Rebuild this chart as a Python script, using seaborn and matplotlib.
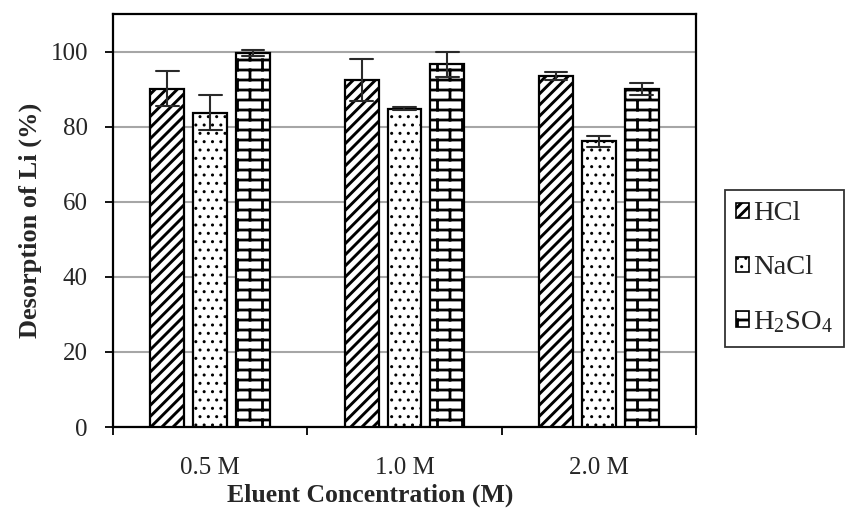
import warnings
warnings.filterwarnings("ignore")
import numpy as np
import pandas as pd
import matplotlib
matplotlib.use("Agg")
import matplotlib.pyplot as plt
import matplotlib.hatch as mhatch
from matplotlib.path import Path
from matplotlib.ticker import FixedLocator
from matplotlib.patches import Patch
import seaborn as sns

# ---------------- data ----------------
concentrations = ["0.5 M", "1.0 M", "2.0 M"]
eluents = ["HCl", "NaCl", "H$_2$SO$_4$"]
hcl_mean = [90.1, 92.3, 93.5]
hcl_err = [4.6, 5.6, 1.0]
nacl_mean = [83.7, 84.8, 76.1]
nacl_err = [4.6, 0.4, 1.4]
h2so4_mean = [99.6, 96.6, 90.0]
h2so4_err = [0.9, 3.3, 1.5]
y_ticks = [0, 20, 40, 60, 80, 100]


# ---------------- custom brick hatch ----------------
class BrickHatch(mhatch.HatchPatternBase):
    def __init__(self, hatch, density):
        self.rows = 10
        self.cols = 4
        if hatch is not None and 'b' in hatch:
            self.num_lines = (self.rows + 1) + self.rows * self.cols
            self.num_vertices = self.num_lines * 2
        else:
            self.num_lines = 0
            self.num_vertices = 0

    def set_vertices_and_codes(self, vertices, codes):
        i = 0
        for r in range(self.rows + 1):
            y = r / self.rows
            vertices[i] = (0.0, y)
            vertices[i + 1] = (1.0, y)
            codes[i] = Path.MOVETO
            codes[i + 1] = Path.LINETO
            i += 2
        for r in range(self.rows):
            off = 0.5 if r % 2 else 0.0
            for c in range(self.cols):
                x = (c + off) / self.cols
                vertices[i] = (x, r / self.rows)
                vertices[i + 1] = (x, (r + 1) / self.rows)
                codes[i] = Path.MOVETO
                codes[i + 1] = Path.LINETO
                i += 2


mhatch._hatch_types.append(BrickHatch)

# ---------------- long-form table ----------------
rows = []
for name, means, errs in [(eluents[0], hcl_mean, hcl_err),
                          (eluents[1], nacl_mean, nacl_err),
                          (eluents[2], h2so4_mean, h2so4_err)]:
    for c, m, e in zip(concentrations, means, errs):
        rows.append({"conc": c, "eluent": name, "value": m - e})
        rows.append({"conc": c, "eluent": name, "value": m + e})
df = pd.DataFrame(rows)

# ---------------- style ----------------
sns.set_style("white")
plt.rcParams['font.family'] = ['Liberation Serif', 'DejaVu Serif']
plt.rcParams['mathtext.fontset'] = 'custom'
plt.rcParams['mathtext.rm'] = 'Liberation Serif'
plt.rcParams['mathtext.it'] = 'Liberation Serif:italic'
plt.rcParams['mathtext.bf'] = 'Liberation Serif:bold'
plt.rcParams['hatch.linewidth'] = 1.4
plt.rcParams['hatch.color'] = 'black'

W, H = 853, 516
fig = plt.figure(figsize=(W / 100, H / 100), dpi=100)
ax = fig.add_axes([113 / W, 1 - 427 / H, (696 - 113) / W, (427 - 14) / H])

sns.barplot(data=df, x="conc", y="value", hue="eluent", order=concentrations,
            hue_order=eluents, ax=ax, width=0.6615, gap=0.21,
            estimator="mean", errorbar=lambda v: (v.min(), v.max()),
            capsize=0.35, err_kws={"color": "#2a2a2a", "linewidth": 1.5},
            palette=["white", "white", "white"], edgecolor="black",
            linewidth=1.6, legend=False, zorder=3)

hatches = ["///", "..", "b"]
hatch_lw = [2.1, 1.0, 2.0]
n = len(concentrations)
bars = [p for p in ax.patches]


def style_hatch(p, k):
    p.set_hatch(hatches[k])
    if hasattr(p, "set_hatch_linewidth"):
        p.set_hatch_linewidth(hatch_lw[k])


for k, p in enumerate(bars[:3 * n]):
    style_hatch(p, k // n)
    p.set_edgecolor("black")
    p.set_zorder(3)
for ln in ax.lines:
    ln.set_zorder(4)

ax.set_ylim(0, 110)
ax.set_xlim(-0.5, 2.5)
ax.set_yticks(y_ticks)
ax.yaxis.grid(True, color="#a6a6a6", linewidth=1.5, zorder=0)
ax.set_axisbelow(True)
for s in ax.spines.values():
    s.set_color("black")
    s.set_linewidth(1.6)

ax.tick_params(axis="y", which="major", direction="out", length=6, width=1.3,
               pad=12, labelsize=18, color="black", left=True)
ax.tick_params(axis="x", which="major", length=0, pad=21.5, labelsize=18)
ax.xaxis.set_minor_locator(FixedLocator([-0.5, 0.5, 1.5, 2.5]))
ax.tick_params(axis="x", which="minor", direction="out", length=6, width=1.3,
               color="black", bottom=True)

ax.set_xlabel("Eluent Concentration (M)", fontsize=18.5, fontweight="bold")
ax.set_ylabel("Desorption of Li (%)", fontsize=19, fontweight="bold")
ax.xaxis.set_label_coords(0.441, -0.165)
ax.yaxis.set_label_coords(-0.142, 0.5)
ax.xaxis.label.set_va("center")
ax.yaxis.label.set_va("center")

handles = [Patch(facecolor="white", edgecolor="black", hatch=h, linewidth=1.2)
           for h in hatches]
leg = fig.legend(handles, eluents, loc="upper left",
                 bbox_to_anchor=(725 / W, 1 - 190 / H), borderaxespad=0,
                 fontsize=20.5, frameon=True, fancybox=False, handlelength=0.46,
                 handleheight=0.46, handletextpad=0.12, labelspacing=1.02,
                 borderpad=0.4)
leg.get_frame().set_edgecolor("black")
leg.get_frame().set_linewidth(1.3)
for k, p in enumerate(leg.get_patches()):
    style_hatch(p, k)

fig.savefig("out.png", dpi=100)
